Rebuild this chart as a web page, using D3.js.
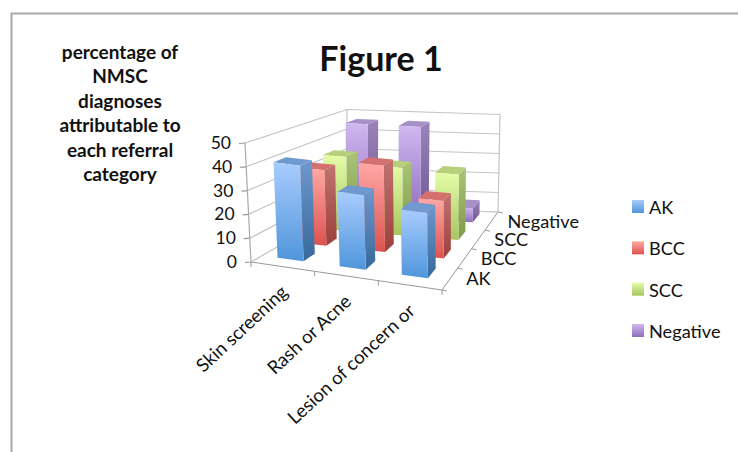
<!DOCTYPE html>
<html lang="en">
<head>
<meta charset="UTF-8">
<title>Figure 1</title>
<script src="https://d3js.org/d3.v7.min.js"></script>
<style>
    body { margin: 0; background: #fff; }
    svg { display: block; }
    text { font-family: Lato, "Open Sans", sans-serif; fill: #111; }
</style>
</head>
<body>
<svg width="738" height="452"></svg>
<script>
const categories = ["Skin screening", "Rash or Acne", "Lesion of concern or"];
const seriesNames = ["AK", "BCC", "SCC", "Negative"];
const akValues = [41, 32, 28];
const bccValues = [34, 39, 26];
const sccValues = [35, 32, 31];
const negativeValues = [46, 46, 7];
const allValues = [akValues, bccValues, sccValues, negativeValues];
const valueTicks = [0, 10, 20, 30, 40, 50];
const titleLines = ["percentage of", "NMSC", "diagnoses", "attributable to", "each referral", "category"];

const colors = [
    {light: "#a8ccff", dark: "#4f95da", sideLight: "#6f97cb", sideDark: "#38699b", top: "#7099cf"},
    {light: "#ffa8a5", dark: "#dc524f", sideLight: "#c07370", sideDark: "#9c3f3c", top: "#d4716e"},
    {light: "#e4fca8", dark: "#a6c65e", sideLight: "#a9c476", sideDark: "#7e9a48", top: "#b7d17a"},
    {light: "#d0b8f0", dark: "#8f6dbd", sideLight: "#9a84b8", sideDark: "#6f5696", top: "#a690c8"}
];

const svg = d3.select("svg");
const defs = svg.append("defs");

// floor of the 3d box, u = category, t = depth 0..1
const uDomain = [0, categories.length];
const frontX = d3.scaleLinear().domain(uDomain).range([251, 442]);
const frontY = d3.scaleLinear().domain(uDomain).range([262, 290]);
const backX = d3.scaleLinear().domain(uDomain).range([347, 498]);
const backY = d3.scaleLinear().domain(uDomain).range([207, 212]);
const frontLean = d3.scaleLinear().domain(uDomain).range([-0.12, -0.02]);
const backLean = d3.scaleLinear().domain(uDomain).range([0, 0.04]);
const depth = d3.scalePow().exponent(0.92).domain([0, seriesNames.length]).range([0, 1]);
const unitHeight = d3.scaleLinear().domain([0, 1]).range([2.38, 1.95]);

function project(u, v, z) {
    const t = depth(v);
    const x0 = d3.interpolateNumber(frontX(u), backX(u))(t);
    const y0 = d3.interpolateNumber(frontY(u), backY(u))(t);
    const lean = d3.interpolateNumber(frontLean(u), backLean(u))(t);
    return [x0 + lean * z, y0 - unitHeight(t) * z];
}

const nV = seriesNames.length;
const nU = categories.length;
const grid = svg.append("g").attr("fill", "none").attr("stroke", "#c4c4c4").attr("stroke-width", 1.2);
const line = d3.line();

// chart border
svg.append("path").attr("d", "M11.5,452V13.5H738").attr("fill", "none").attr("stroke", "#a8a8a8").attr("stroke-width", 2);

// wall gridlines and value ticks
valueTicks.forEach(z => {
    grid.append("path").attr("d", line([project(0, 0, z), project(0, nV, z), project(nU, nV, z)]));
    const p = project(0, 0, z);
    grid.append("path").attr("d", line([[p[0] - 6, p[1] + 0.5], p])).attr("stroke", "#999");
    svg.append("text").attr("x", p[0] - 14).attr("y", p[1] + 6)
        .attr("text-anchor", "end").attr("font-size", 17.5).text(z);
});
grid.append("path").attr("d", line([project(0, 0, 0), project(0, 0, 50)])).attr("stroke", "#aaa");
grid.append("path").attr("d", line([project(0, nV, 0), project(0, nV, 50)]));
grid.append("path").attr("d", line([project(nU, nV, 0), project(nU, nV, 50)]));

// floor edges and ticks
const edges = svg.append("g").attr("fill", "none").attr("stroke", "#999").attr("stroke-width", 1);
edges.append("path").attr("d", line([project(0, 0, 0), project(nU, 0, 0), project(nU, nV, 0)]));
edges.append("path").attr("d", line([project(0, 0, 0), project(0, nV, 0), project(nU, nV, 0)])).attr("stroke", "#ccc");
d3.range(nU + 1).forEach(u => {
    const p = project(u, 0, 0);
    edges.append("path").attr("d", line([p, [p[0], p[1] + 5]]));
});
d3.range(nV + 1).forEach(v => {
    const p = project(nU, v, 0);
    edges.append("path").attr("d", line([p, [p[0] + 5, p[1] + 1]]));
});

function gradient(id, c0, c1) {
    const g = defs.append("linearGradient").attr("id", id).attr("x1", 0).attr("y1", 0).attr("x2", 0).attr("y2", 1);
    g.append("stop").attr("offset", "0%").attr("stop-color", c0);
    g.append("stop").attr("offset", "100%").attr("stop-color", c1);
}
colors.forEach((c, i) => {
    gradient("front" + i, c.light, c.dark);
    gradient("side" + i, c.sideLight, c.sideDark);
});

// bars, back row first
const uHalf = 0.21, vHalf = 0.24, uMid = 0.46, vMid = 0.62;
const bars = svg.append("g");
d3.range(nV - 1, -1, -1).forEach(s => {
    allValues[s].forEach((val, i) => {
        const u0 = i + uMid - uHalf, u1 = i + uMid + uHalf;
        const v0 = s + vMid - vHalf, v1 = s + vMid + vHalf;
        const g = bars.append("g");
        g.append("polygon").attr("fill", `url(#side${s})`)
            .attr("points", [project(u1, v0, 0), project(u1, v1, 0), project(u1, v1, val), project(u1, v0, val)].join(" "));
        g.append("polygon").attr("fill", colors[s].top)
            .attr("points", [project(u0, v0, val), project(u1, v0, val), project(u1, v1, val), project(u0, v1, val)].join(" "));
        g.append("polygon").attr("fill", `url(#front${s})`)
            .attr("points", [project(u0, v0, 0), project(u1, v0, 0), project(u1, v0, val), project(u0, v0, val)].join(" "));
    });
});

// category labels
categories.forEach((c, i) => {
    const p = project(i + 0.5, 0, 0);
    svg.append("text").attr("text-anchor", "end").attr("font-size", 18.6)
        .attr("transform", `translate(${p[0] + 6},${p[1] + 27}) rotate(-43)`).text(c);
});

// depth labels
seriesNames.forEach((c, i) => {
    const p = project(nU, i + 0.5, 0);
    svg.append("text").attr("x", p[0] + 16).attr("y", p[1] + 7).attr("font-size", 18.2).text(c);
});

// legend
const legendY = d3.scalePoint().domain(seriesNames).range([207, 331]);
seriesNames.forEach((c, i) => {
    const y = legendY(c);
    svg.append("rect").attr("x", 632).attr("y", y - 7).attr("width", 12).attr("height", 13).attr("fill", `url(#front${i})`);
    svg.append("text").attr("x", 649).attr("y", y + 7).attr("font-size", 18.2).text(c);
});

// titles
svg.append("text").attr("x", 381).attr("y", 71).attr("text-anchor", "middle")
    .attr("font-size", 34).attr("font-weight", 700).text("Figure 1");
titleLines.forEach((t, i) => {
    svg.append("text").attr("x", 120).attr("y", 59 + i * 24.4).attr("text-anchor", "middle")
        .attr("font-size", 19).attr("font-weight", 700).text(t);
});
</script>
</body>
</html>
